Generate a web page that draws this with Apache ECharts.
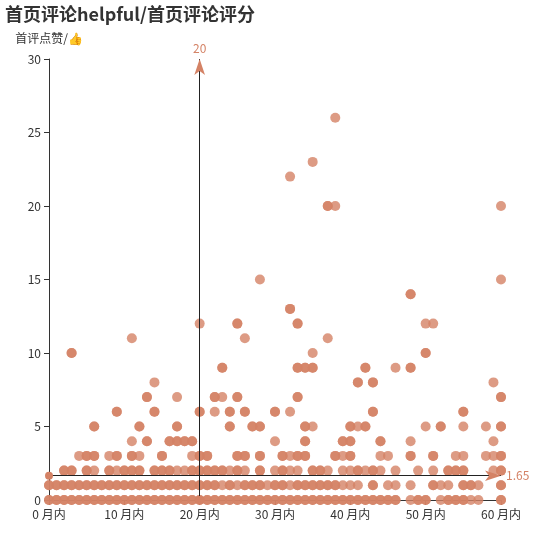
<!DOCTYPE html>
<html>
<head>
<meta charset="utf-8">
<script src="https://cdn.jsdelivr.net/npm/echarts@6/dist/echarts.min.js"></script>
<style>html,body{margin:0;padding:0;background:#fff}#c{width:538px;height:538px}</style>
</head>
<body>
<div id="c"></div>
<script>
// Each array lists the x (months) of reviews at a given y (first-review likes).
// A repeated x means several reviews at the same spot (drawn darker).
const lvl0 = [0,0,1,1,2,2,3,3,4,4,5,5,6,6,7,7,8,8,9,9,10,10,11,11,12,12,13,13,14,14,15,15,16,16,17,17,18,18,19,19,20,20,21,21,22,22,23,23,24,24,25,25,26,26,27,27,28,28,29,29,30,30,31,31,32,32,33,33,34,34,35,35,36,36,37,37,38,38,39,39,40,40,41,41,42,42,43,43,44,44,45,45,46,46,48,49,49,50,50,52,53,53,54,54,55,55,56,57,60,60];
const lvl1 = [0,0,1,1,2,2,3,3,4,4,5,5,6,6,7,7,8,8,9,9,10,10,11,11,12,12,13,13,14,14,15,15,16,16,17,17,18,18,19,19,20,20,21,21,22,22,23,24,24,25,26,26,27,27,28,28,29,30,30,31,31,32,33,33,34,34,35,35,36,36,37,37,38,38,39,40,41,43,43,45,46,48,51,51,52,53,55,55,56,56,57,60,60];
const lvl2 = [2,2,3,3,5,5,6,8,8,9,10,10,11,11,12,12,14,14,15,15,16,16,17,18,19,19,20,20,21,21,22,22,23,23,24,25,25,26,28,28,30,31,31,32,33,35,35,36,36,37,39,40,41,41,42,43,43,44,46,49,51,53,53,54,54,55,55,59,60,60];
const lvl3 = [4,5,5,6,6,8,9,9,11,11,12,15,15,19,20,20,21,21,25,25,26,26,28,28,31,31,32,33,33,34,34,38,38,39,40,40,44,45,48,48,51,51,54,55,58,59,60,60];
const lvl4 = [11,13,13,16,16,17,17,18,18,19,19,30,34,34,39,39,40,40,44,44,48,59];
const lvl5 = [6,6,12,12,17,17,24,24,27,27,28,28,34,34,35,40,40,41,42,42,50,52,52,55,58,60,60];
const lvl6 = [9,9,14,14,20,20,22,24,24,26,26,30,30,32,43,43,55,55];
const lvl7 = [13,13,17,22,22,23,25,25,33,33,60,60];
const lvl8 = [14,41,41,43,43,59];
const lvl9 = [23,23,33,33,34,34,35,35,42,42,46,48,48];
const lvl10 = [3,3,35,50,50];
const lvl11 = [11,26,37];
const lvl12 = [20,25,25,33,33,50,51];
const lvl13 = [32,32];
const lvl14 = [48,48];
const lvl15 = [28,60];
const lvl20 = [37,37,38,60];
const lvl22 = [32];
const lvl23 = [35];
const lvl26 = [38];

const levels = [
  [0, lvl0], [1, lvl1], [2, lvl2], [3, lvl3], [4, lvl4], [5, lvl5], [6, lvl6],
  [7, lvl7], [8, lvl8], [9, lvl9], [10, lvl10], [11, lvl11], [12, lvl12],
  [13, lvl13], [14, lvl14], [15, lvl15], [20, lvl20], [22, lvl22], [23, lvl23], [26, lvl26]
];

const markX = 20;      // vertical reference line (months)
const markY = 1.65;    // horizontal reference line (likes)
const titleText = '首页评论helpful/首页评论评分';
const yName = '首评点赞/👍';
const xSuffix = ' 月内';

const points = [];
levels.forEach(function (lv) {
  lv[1].forEach(function (x) { points.push([x, lv[0]]); });
});

const color = '#d48265';
const font = '"Noto Sans CJK SC", "Noto Sans", sans-serif';
const chart = echarts.init(document.getElementById('c'), null, {renderer: 'canvas'});
chart.setOption({
  animation: false,
  textStyle: {fontFamily: font},
  title: {
    text: titleText,
    left: 0, top: 0,
    textStyle: {fontSize: 18, fontWeight: 'bold', color: '#333', fontFamily: font}
  },
  grid: {left: 49, right: 37, top: 59, bottom: 38},
  xAxis: {
    type: 'value', min: 0, max: 60, interval: 10,
    splitLine: {show: false},
    axisLine: {show: true, lineStyle: {color: '#333'}},
    axisTick: {show: true, lineStyle: {color: '#333'}},
    axisLabel: {formatter: '{value}' + xSuffix, color: '#333', fontSize: 12, fontFamily: font}
  },
  yAxis: {
    type: 'value', min: 0, max: 30, interval: 5,
    name: yName,
    nameTextStyle: {color: '#333', fontSize: 12, fontFamily: font},
    splitLine: {show: false},
    axisLine: {show: true, lineStyle: {color: '#333'}},
    axisTick: {show: true, lineStyle: {color: '#333'}},
    axisLabel: {color: '#333', fontSize: 12, fontFamily: font}
  },
  series: [
    {
      type: 'scatter',
      symbolSize: 10,
      itemStyle: {color: color, opacity: 0.8},
      data: points,
      markLine: {
        silent: true,
        symbol: 'none',
        label: {show: false},
        lineStyle: {color: '#222', type: 'solid', width: 1},
        data: [{xAxis: markX}, {yAxis: markY}]
      }
    },
    {
      type: 'scatter',
      data: [],
      itemStyle: {color: color},
      markLine: {
        silent: true,
        symbolSize: [8, 16],
        label: {show: true, color: color, fontSize: 12, fontFamily: font},
        lineStyle: {color: color, type: 'solid', width: 0},
        data: [{xAxis: markX}, {yAxis: markY}]
      }
    }
  ]
});
</script>
</body>
</html>
